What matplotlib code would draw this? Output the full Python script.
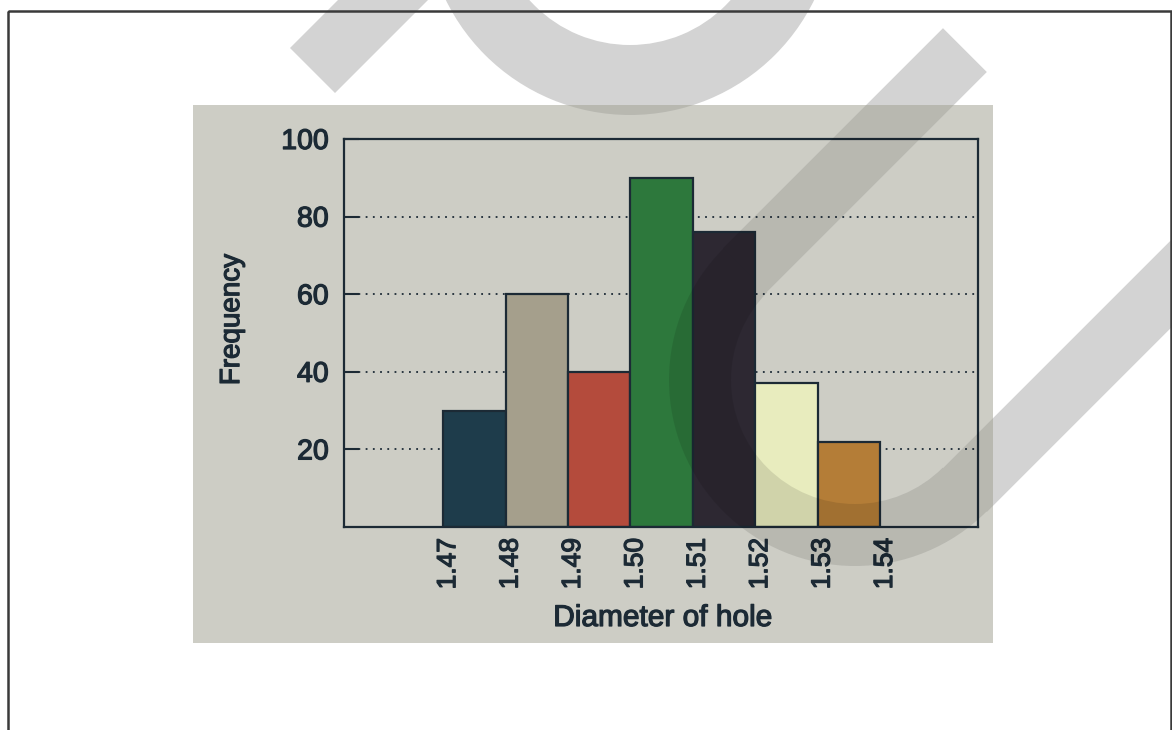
import numpy as np
import matplotlib.pyplot as plt
import matplotlib.patheffects as pe
from matplotlib.transforms import ScaledTranslation
from matplotlib.patches import Rectangle, Polygon, Annulus, Wedge

# histogram data: bin edges (hole diameter) and counts per bin
bin_edges = [1.47, 1.48, 1.49, 1.50, 1.51, 1.52, 1.53, 1.54]
frequency = [30, 60, 40, 90, 76, 37, 22]
bar_colors = ["#1e3c4b", "#a59f8c", "#b44b3c", "#2d783c", "#2d2832", "#e8ecbe", "#b47d37"]
y_ticks = [20, 40, 60, 80, 100]

INK = "#1c2a35"
PANEL = "#cdcdc5"
MARK = "#d3d3d3"

plt.rcParams["font.family"] = ["Liberation Sans", "DejaVu Sans"]
heavy = [pe.withStroke(linewidth=0.9, foreground=INK)]

W, H = 1172, 730
fig = plt.figure(figsize=(W / 100, H / 100), dpi=100)
fig.patch.set_facecolor("white")

# page layer in pixel units (y down)
bg = fig.add_axes([0, 0, 1, 1], zorder=0)
bg.set_xlim(0, W)
bg.set_ylim(H, 0)
bg.axis("off")


def stamp_shapes(**kw):
    # big diagonal stamp across the page
    n = np.array([1.0, 1.0]) / np.sqrt(2) * 31
    d = np.array([1.0, -1.0]) / np.sqrt(2)
    shapes = [Polygon([(290, 48), (335, 93), (485, -57), (440, -102)], closed=True, **kw),
              Annulus((630, -90), 205, 70, **kw)]
    for start, length in [((745, 270), 311), ((965, 490), 600)]:
        a = np.array(start, float)
        b = a + d * length
        shapes.append(Polygon([a - n, b - n, b + n, a + n], closed=True, **kw))
    shapes.append(Wedge((855, 380), 186, 45, 225, width=62, **kw))
    return shapes


for p in stamp_shapes(facecolor=MARK, edgecolor="none", zorder=1):
    bg.add_patch(p)

panel = Rectangle((193, 105), 800, 538, facecolor=PANEL, edgecolor="none", zorder=2)
bg.add_patch(panel)
bg.add_patch(Rectangle((8, 11), 1163, 740, fill=False, edgecolor="#3a3a3a", lw=1.8, zorder=3))

# the histogram itself
ax = fig.add_axes([344 / W, (H - 527) / H, 634 / W, 388 / H], zorder=1)
ax.set_facecolor("none")
ax.bar(bin_edges[:-1], frequency, width=np.diff(bin_edges), align="edge",
       color=bar_colors, edgecolor=INK, linewidth=1.6, zorder=2)
ax.set_xlim(1.4541, 1.5557)
ax.set_ylim(0, 100)
ax.set_yticks(y_ticks)
ax.set_xticks(bin_edges)
ax.set_xticklabels([f"{e:.2f}" for e in bin_edges], rotation=90)
ax.tick_params(axis="x", length=0, pad=8, labelsize=19, labelcolor=INK)
ax.tick_params(axis="y", direction="in", length=11, width=1.5, color=INK,
               pad=11, labelsize=20.5, labelcolor=INK)
ax.yaxis.grid(True, linestyle=(0, (1, 3)), color=INK, linewidth=1.3)
ax.set_axisbelow(True)
for s in ax.spines.values():
    s.set_color(INK)
    s.set_linewidth(1.6)

nudge = ScaledTranslation(5 / 100, 0, fig.dpi_scale_trans)
for lab in ax.get_xticklabels():
    lab.set_transform(lab.get_transform() + nudge)
    lab.set_path_effects(heavy)
for lab in ax.get_yticklabels():
    lab.set_path_effects(heavy)

ax.set_ylabel("Frequency", fontsize=20, color=INK, path_effects=heavy)
ax.yaxis.set_label_coords(-0.1765, 0.534)
ax.yaxis.label.set_verticalalignment("center")
ax.set_xlabel("Diameter of hole", fontsize=21.5, color=INK, path_effects=heavy)
ax.xaxis.set_label_coords(0.503, -0.2345)
ax.xaxis.label.set_verticalalignment("center")

# stamp shows through the print as a light darkening
fg = fig.add_axes([0, 0, 1, 1], zorder=5)
fg.set_xlim(0, W)
fg.set_ylim(H, 0)
fg.axis("off")
fg.patch.set_alpha(0)
for p in stamp_shapes(facecolor="black", alpha=0.1, edgecolor="none"):
    fg.add_patch(p)
    p.set_clip_path(panel)

fig.savefig("out.png", dpi=100)
